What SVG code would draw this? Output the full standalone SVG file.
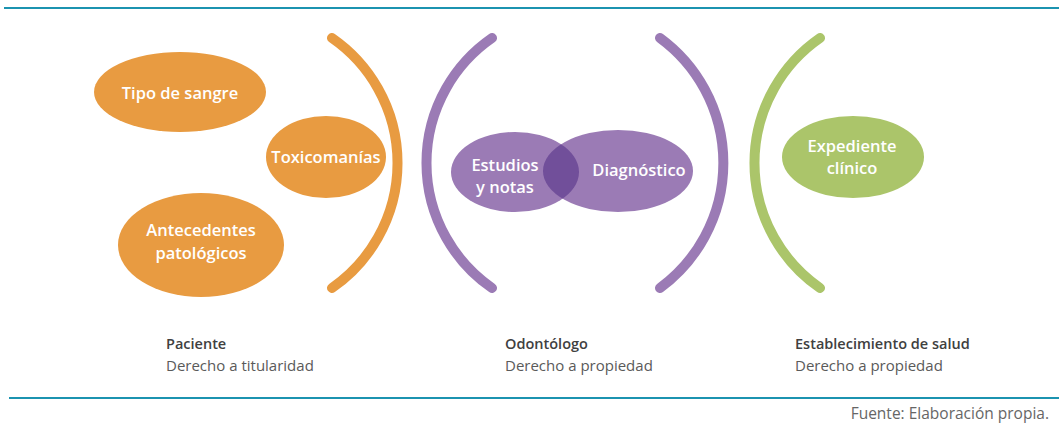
<svg xmlns="http://www.w3.org/2000/svg" width="1059" height="426" viewBox="0 0 1059 426">
  <style>
    .rule { stroke: #1b93b0; stroke-width: 2; }
    .arc { fill: none; stroke-width: 10; stroke-linecap: round; }
    .orange { fill: #e89b41; }
    .purple { fill: #9b7bb5; }
    .green { fill: #abc56a; }
    .lbl { font-family: "Open Sans", "Liberation Sans", sans-serif; font-size: 16.5px; font-weight: 600; fill: #ffffff; text-anchor: middle; }
    .role { font-family: "Open Sans", "Liberation Sans", sans-serif; font-size: 14.5px; font-weight: 600; fill: #404040; }
    .right { font-family: "Open Sans", "Liberation Sans", sans-serif; font-size: 15px; font-weight: 400; fill: #5a5a5a; }
    .src { font-family: "Open Sans", "Liberation Sans", sans-serif; font-size: 15.5px; fill: #666666; text-anchor: end; }
  </style>
  <defs>
    <clipPath id="clipDiag">
      <ellipse cx="618" cy="171" rx="75" ry="41"/>
    </clipPath>
  </defs>
  <rect width="1059" height="426" fill="#ffffff"/>

  <!-- horizontal rules -->
  <line class="rule" x1="4" y1="8" x2="1059" y2="8"/>
  <line class="rule" x1="9" y1="398" x2="1059" y2="398"/>

  <!-- brackets -->
  <g id="connectors">
    <path class="arc" stroke="#e89b41" d="M332,38 A152,152 0 0 1 332,288"/>
    <path class="arc" stroke="#9b7bb5" d="M492,38 A152,152 0 0 0 492,288"/>
    <path class="arc" stroke="#9b7bb5" d="M660,38 A155,155 0 0 1 660,288"/>
    <path class="arc" stroke="#abc56a" d="M820,38 A152,152 0 0 0 820,288"/>
  </g>

  <!-- patient data -->
  <g id="tipo-sangre">
    <ellipse class="orange" cx="180" cy="92" rx="86" ry="40"/>
    <text class="lbl" x="180" y="99">Tipo de sangre</text>
  </g>
  <g id="toxicomanias">
    <ellipse class="orange" cx="326" cy="157" rx="60" ry="41"/>
    <text class="lbl" x="326" y="163">Toxicomanías</text>
  </g>
  <g id="antecedentes">
    <ellipse class="orange" cx="201" cy="245" rx="83" ry="52"/>
    <text class="lbl" x="201" y="236">Antecedentes</text>
    <text class="lbl" x="201" y="259">patológicos</text>
  </g>

  <!-- dentist records -->
  <g id="estudios">
    <ellipse class="purple" cx="515" cy="172" rx="64" ry="40"/>
  </g>
  <g id="diagnostico">
    <ellipse class="purple" cx="618" cy="171" rx="75" ry="41"/>
    <ellipse cx="515" cy="172" rx="64" ry="40" fill="#714f9a" clip-path="url(#clipDiag)"/>
    <text class="lbl" x="639" y="176">Diagnóstico</text>
  </g>
  <g id="estudios-label">
    <text class="lbl" x="505" y="171">Estudios</text>
    <text class="lbl" x="505" y="193">y notas</text>
  </g>

  <!-- facility record -->
  <g id="expediente">
    <ellipse class="green" cx="853" cy="157" rx="71" ry="41"/>
    <text class="lbl" x="852" y="152">Expediente</text>
    <text class="lbl" x="852" y="174">clínico</text>
  </g>

  <!-- owners -->
  <g id="paciente">
    <text class="role" x="166" y="349">Paciente</text>
    <text class="right" x="166" y="371">Derecho a titularidad</text>
  </g>
  <g id="odontologo">
    <text class="role" x="505" y="349">Odontólogo</text>
    <text class="right" x="505" y="371">Derecho a propiedad</text>
  </g>
  <g id="establecimiento">
    <text class="role" x="795" y="349">Establecimiento de salud</text>
    <text class="right" x="795" y="371">Derecho a propiedad</text>
  </g>

  <text class="src" x="1049" y="419">Fuente: Elaboración propia.</text>
</svg>
